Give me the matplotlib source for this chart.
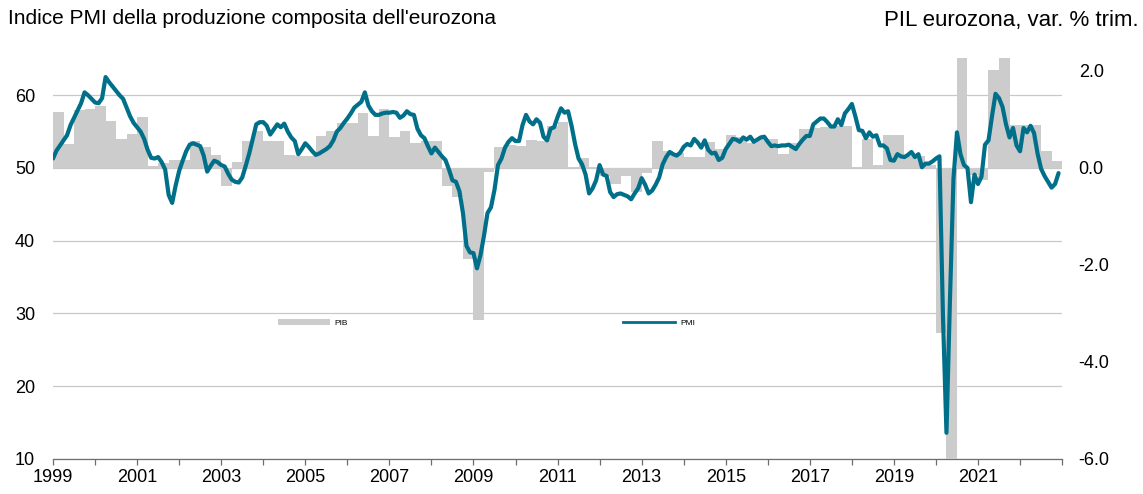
import numpy as np
import matplotlib.pyplot as plt
from matplotlib.patches import Patch
from matplotlib.lines import Line2D

plt.rcParams['font.family'] = ['Liberation Sans', 'DejaVu Sans']

start_year = 1999

# Indice PMI composito eurozona, mensile (gen 1999 - dic 2022)
pmi = [
    51.3, 52.4, 53.1, 53.8, 54.5, 55.9, 56.9, 57.9, 58.9, 60.4, 60.0, 59.5,  # 1999
    59.0, 58.9, 59.6, 62.5, 61.8, 61.2, 60.6, 60.0, 59.5, 58.3, 57.1, 56.2,  # 2000
    55.6, 55.0, 54.0, 52.5, 51.4, 51.3, 51.5, 50.8, 49.8, 46.3, 45.2, 47.6,  # 2001
    49.6, 51.0, 52.3, 53.2, 53.4, 53.2, 53.0, 51.7, 49.5, 50.3, 51.0, 50.8,  # 2002
    50.4, 50.2, 49.2, 48.4, 48.1, 48.0, 48.7, 50.3, 52.0, 54.0, 56.0, 56.3,  # 2003
    56.3, 55.8, 54.6, 55.3, 56.0, 55.6, 56.1, 55.0, 54.2, 53.7, 51.9, 52.6,  # 2004
    53.4, 52.9, 52.3, 51.8, 52.0, 52.3, 52.6, 53.0, 53.8, 55.0, 55.5, 56.2,  # 2005
    56.8, 57.5, 58.3, 58.7, 59.1, 60.4, 58.6, 57.8, 57.3, 57.3, 57.5, 57.6,  # 2006
    57.6, 57.7, 57.6, 56.9, 57.2, 57.8, 57.4, 57.3, 55.4, 54.5, 54.1, 53.0,  # 2007
    52.0, 52.8, 52.2, 51.6, 51.1, 49.8, 48.3, 48.1, 46.8, 43.8, 39.3, 38.4,  # 2008
    38.3, 36.2, 38.0, 40.7, 43.8, 44.6, 47.0, 50.4, 51.3, 52.8, 53.6, 54.1,  # 2009
    53.7, 53.7, 55.9, 57.3, 56.4, 56.0, 56.7, 56.2, 54.3, 53.8, 55.4, 55.6,  # 2010
    57.0, 58.2, 57.6, 57.8, 55.8, 53.3, 51.3, 50.5, 49.1, 46.5, 47.2, 48.3,  # 2011
    50.4, 49.1, 48.9, 46.7, 46.0, 46.4, 46.5, 46.3, 46.1, 45.7, 46.5, 47.2,  # 2012
    48.6, 47.7, 46.5, 46.9, 47.7, 48.7, 50.5, 51.5, 52.2, 51.9, 51.7, 52.1,  # 2013
    52.9, 53.3, 53.1, 54.0, 53.5, 52.8, 53.8, 52.5, 52.0, 52.1, 51.1, 51.4,  # 2014
    52.6, 53.3, 54.0, 53.9, 53.6, 54.2, 53.9, 54.3, 53.6, 53.9, 54.2, 54.3,  # 2015
    53.6, 53.0, 53.1, 53.0, 53.1, 53.1, 53.2, 52.9, 52.6, 53.3, 53.9, 54.4,  # 2016
    54.4, 56.0, 56.4, 56.8, 56.8, 56.3, 55.7, 55.7, 56.7, 55.9, 57.5, 58.1,  # 2017
    58.8, 57.1, 55.2, 55.1, 54.1, 54.9, 54.3, 54.5, 53.1, 53.1, 52.7, 51.1,  # 2018
    51.0, 51.9, 51.6, 51.5, 51.8, 52.2, 51.5, 51.9, 50.1, 50.6, 50.6, 50.9,  # 2019
    51.3, 51.6, 29.7, 13.6, 31.9, 48.5, 54.9, 51.9, 50.4, 50.0, 45.3, 49.1,  # 2020
    47.8, 48.8, 53.2, 53.8, 57.1, 60.2, 59.6, 58.4, 56.0, 54.2, 55.5, 53.1,  # 2021
    52.3, 55.5, 54.9, 55.8, 54.8, 52.0, 49.9, 48.9, 48.1, 47.3, 47.8, 49.3,  # 2022
]

# PIL eurozona, variazione % trimestrale (1T 1999 - 4T 2022)
pil = [
    1.16, 0.49, 1.20, 1.21,    # 1999
    1.28, 0.97, 0.60, 0.71,    # 2000
    1.05, 0.05, 0.10, 0.16,    # 2001
    0.16, 0.56, 0.43, 0.27,    # 2002
    -0.37, 0.13, 0.56, 0.77,   # 2003
    0.56, 0.56, 0.27, 0.25,    # 2004
    0.25, 0.65, 0.77, 0.92,    # 2005
    0.92, 1.14, 0.65, 1.21,    # 2006
    0.63, 0.77, 0.51, 0.56,    # 2007
    0.56, -0.38, -0.59, -1.88,  # 2008
    -3.13, -0.08, 0.44, 0.47,  # 2009
    0.45, 0.58, 0.55, 0.87,    # 2010
    0.95, 0.02, 0.20, 0.03,    # 2011
    -0.16, -0.32, -0.16, -0.49,  # 2012
    -0.10, 0.56, 0.36, 0.30,   # 2013
    0.23, 0.23, 0.54, 0.40,    # 2014
    0.68, 0.63, 0.51, 0.59,    # 2015
    0.59, 0.29, 0.52, 0.80,    # 2016
    0.82, 0.85, 0.87, 0.87,    # 2017
    0.02, 0.60, 0.06, 0.68,    # 2018
    0.68, 0.25, 0.25, 0.06,    # 2019
    -3.40, -11.6, 12.4, -0.14,  # 2020
    -0.25, 2.02, 2.30, 0.89,   # 2021
    0.89, 0.89, 0.34, 0.15,    # 2022
]

years = list(range(1999, 2024))
year_labels = [str(y) if (y - 1999) % 2 == 0 and y <= 2021 else '' for y in years]
left_ticks = [10, 20, 30, 40, 50, 60]
right_ticks = [-6.0, -4.0, -2.0, 0.0, 2.0]

t_pmi = start_year + np.arange(len(pmi)) / 12
t_pil = start_year + np.arange(len(pil)) / 4

bar_color = '#CCCCCC'
line_color = '#00708A'

fig = plt.figure(figsize=(11.43, 4.94), dpi=100)
ax = fig.add_axes([0.0464, 0.0709, 0.8828, 0.8117])

# asse sinistro: griglia e scala PMI
ax.set_xlim(1999, 2023)
ax.set_ylim(10, 65.12)
ax.set_yticks(left_ticks)
ax.grid(axis='y', color='#C8C8C8', linewidth=0.9)
ax.set_axisbelow(True)
for s in ['left', 'right', 'top']:
    ax.spines[s].set_visible(False)
ax.spines['bottom'].set_color('#6E6E6E')
ax.spines['bottom'].set_linewidth(0.9)
ax.tick_params(axis='y', length=0, pad=13, labelsize=13)
ax.set_xticks(years)
ax.set_xticklabels(year_labels)
ax.tick_params(axis='x', direction='out', length=4.5, width=0.9, color='#6E6E6E',
               pad=3, labelsize=13)

# asse destro: PIL
ax2 = ax.twinx()
ax2.bar(t_pil, pil, width=0.25, align='edge', color=bar_color, linewidth=0)
ax2.set_ylim(-6, 2.268)
ax2.set_yticks(right_ticks)
ax2.set_yticklabels([f'{v:.1f}' for v in right_ticks])
ax2.tick_params(axis='y', length=0, pad=12, labelsize=13)
for s in ax2.spines.values():
    s.set_visible(False)

# linea PMI sopra le barre
ax3 = ax.twinx()
ax3.plot(t_pmi, pmi, color=line_color, linewidth=3, solid_joinstyle='round',
         solid_capstyle='round')
ax3.set_ylim(ax.get_ylim())
ax3.set_yticks([])
for s in ax3.spines.values():
    s.set_visible(False)

handles = [Patch(facecolor=bar_color, edgecolor='none'),
           Line2D([], [], color=line_color, linewidth=2)]
ax3.legend(handles, ['PIB', 'PMI'], ncol=2, loc='center left',
           bbox_to_anchor=(0.223, 0.339), frameon=False, fontsize=6,
           handlelength=6.2, handleheight=0.6, handletextpad=0.6,
           columnspacing=33, borderpad=0, borderaxespad=0)

fig.text(0.007, 0.963, "Indice PMI della produzione composita dell'eurozona",
         ha='left', va='center', fontsize=15)
fig.text(0.996, 0.958, 'PIL eurozona, var. % trim.', ha='right', va='center',
         fontsize=16)

fig.savefig('out.png', dpi=100)
